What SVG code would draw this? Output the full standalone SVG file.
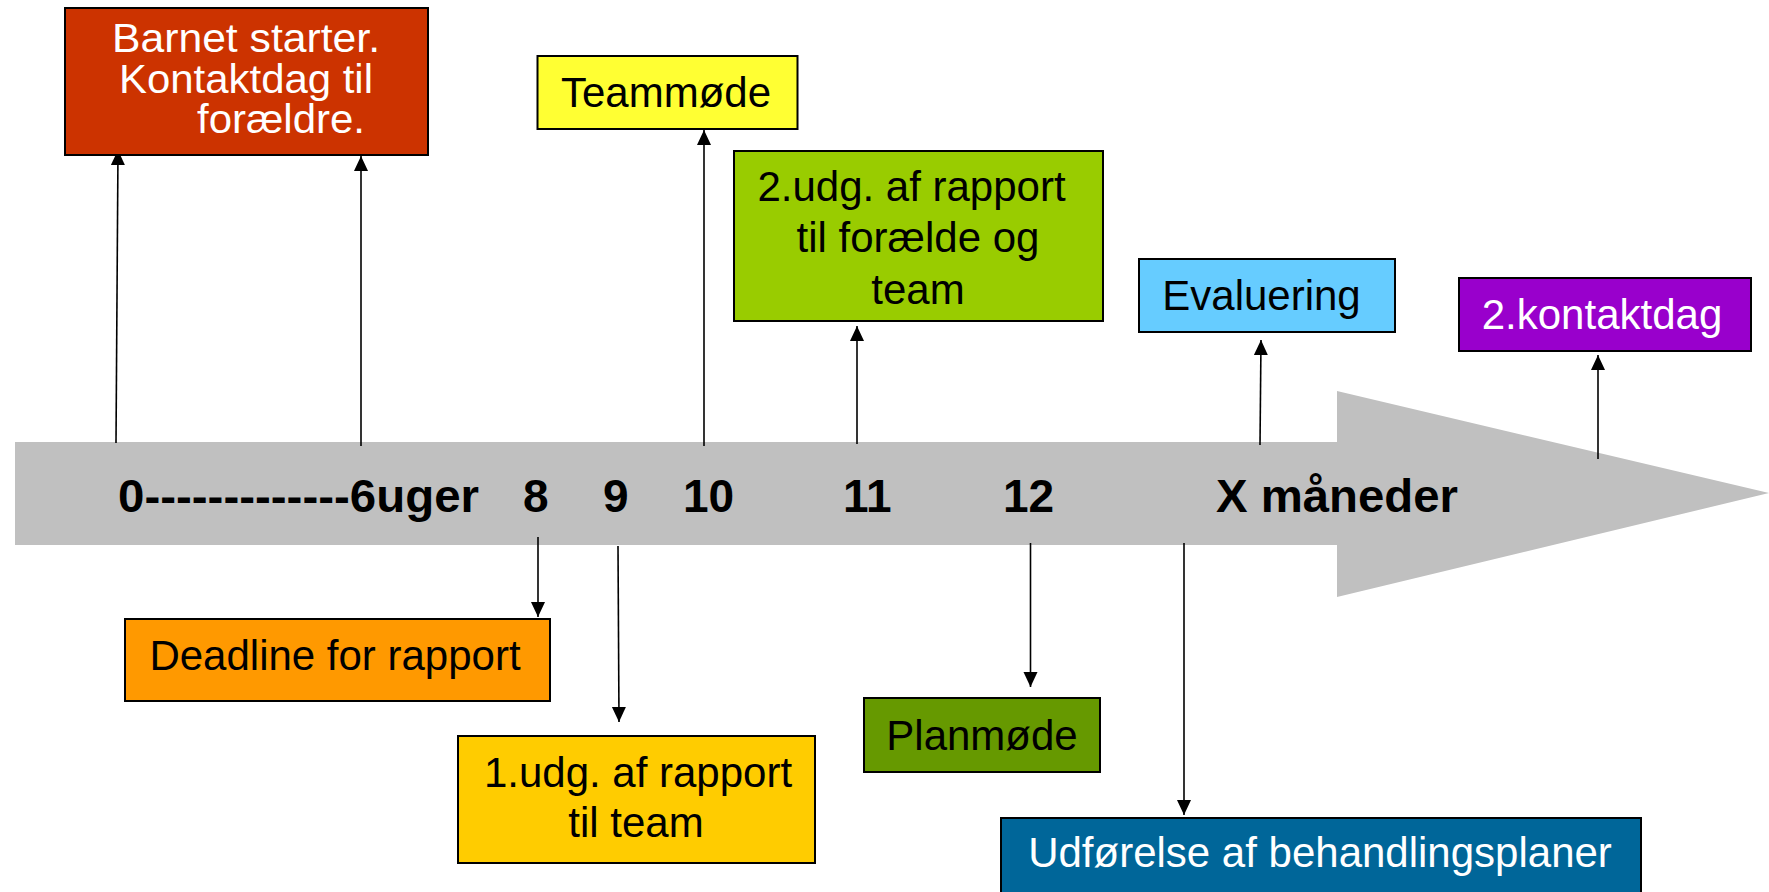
<svg xmlns="http://www.w3.org/2000/svg" width="1769" height="892" viewBox="0 0 1769 892">
<style>
.box{stroke:#000;stroke-width:2}
.t{font-family:"Liberation Sans",Arial,sans-serif;font-size:42px;fill:#000}
.r{font-size:40px}
.w{fill:#fff}
.tl{font-family:"Liberation Sans",Arial,sans-serif;font-size:46px;font-weight:bold;fill:#000}
.c{stroke:#000;stroke-width:1.6;fill:none;marker-end:url(#ah)}
</style>
<defs>
<marker id="ah" markerUnits="userSpaceOnUse" markerWidth="16" markerHeight="15" refX="15" refY="7" orient="auto">
<path d="M0,0 L15,7 L0,14 z" fill="#000"/>
</marker>
</defs>
<rect width="1769" height="892" fill="#fff"/>
<g id="timeline">
<polygon points="15,442 1337,442 1337,391 1769,493 1337,597 1337,545 15,545" fill="#c0c0c0"/>
<text class="tl" x="118" y="512" textLength="361" lengthAdjust="spacingAndGlyphs">0-------------6uger</text>
<text class="tl" x="523" y="512">8</text>
<text class="tl" x="603" y="512">9</text>
<text class="tl" x="683" y="512">10</text>
<text class="tl" x="843" y="512">11</text>
<text class="tl" x="1003" y="512">12</text>
<text class="tl" x="1216" y="512" textLength="242" lengthAdjust="spacingAndGlyphs">X måneder</text>
</g>
<g id="connectors">
<line class="c" x1="116" y1="443" x2="118" y2="150"/>
<line class="c" x1="361" y1="446" x2="361" y2="156"/>
<line class="c" x1="704" y1="446" x2="704" y2="130"/>
<line class="c" x1="857" y1="444" x2="857" y2="326"/>
<line class="c" x1="1260" y1="445" x2="1261" y2="340"/>
<line class="c" x1="1598" y1="459" x2="1598" y2="355"/>
<line class="c" x1="538" y1="537" x2="538" y2="617"/>
<line class="c" x1="618" y1="546" x2="619" y2="722"/>
<line class="c" x1="1030.5" y1="543" x2="1030.5" y2="687"/>
<line class="c" x1="1184" y1="543" x2="1184" y2="815"/>
</g>
<g id="barnet">
<rect class="box" x="65" y="8" width="363" height="147" fill="#cc3300"/>
<text class="t r w" x="112" y="52" textLength="268" lengthAdjust="spacingAndGlyphs">Barnet starter.</text>
<text class="t r w" x="119" y="93" textLength="254" lengthAdjust="spacingAndGlyphs">Kontaktdag til</text>
<text class="t r w" x="197" y="133" textLength="168" lengthAdjust="spacingAndGlyphs">forældre.</text>
</g>
<g id="teammode">
<rect class="box" x="537.5" y="56" width="260" height="73" fill="#ffff33"/>
<text class="t" x="666" y="107" text-anchor="middle">Teammøde</text>
</g>
<g id="udg2">
<rect class="box" x="734" y="151" width="369" height="170" fill="#99cc00"/>
<text class="t" x="911.5" y="201" text-anchor="middle">2.udg. af rapport</text>
<text class="t" x="918" y="252" text-anchor="middle">til forælde og</text>
<text class="t" x="918" y="304" text-anchor="middle">team</text>
</g>
<g id="evaluering">
<rect class="box" x="1139" y="259" width="256" height="73" fill="#66ccff"/>
<text class="t" x="1261.5" y="310" text-anchor="middle">Evaluering</text>
</g>
<g id="kontaktdag2">
<rect class="box" x="1459" y="278" width="292" height="73" fill="#9900cc"/>
<text class="t w" x="1602" y="329" text-anchor="middle">2.kontaktdag</text>
</g>
<g id="deadline">
<rect class="box" x="125" y="619" width="425" height="82" fill="#ff9900"/>
<text class="t" x="335" y="670" text-anchor="middle">Deadline for rapport</text>
</g>
<g id="udg1">
<rect class="box" x="458" y="736" width="357" height="127" fill="#ffcc00"/>
<text class="t" x="638" y="787" text-anchor="middle">1.udg. af rapport</text>
<text class="t" x="636" y="837" text-anchor="middle">til team</text>
</g>
<g id="planmode">
<rect class="box" x="864" y="698" width="236" height="74" fill="#669900"/>
<text class="t" x="982" y="750" text-anchor="middle">Planmøde</text>
</g>
<g id="udforelse">
<rect class="box" x="1001" y="818" width="640" height="90" fill="#006699"/>
<text class="t w" x="1320" y="867" text-anchor="middle">Udførelse af behandlingsplaner</text>
</g>
</svg>
